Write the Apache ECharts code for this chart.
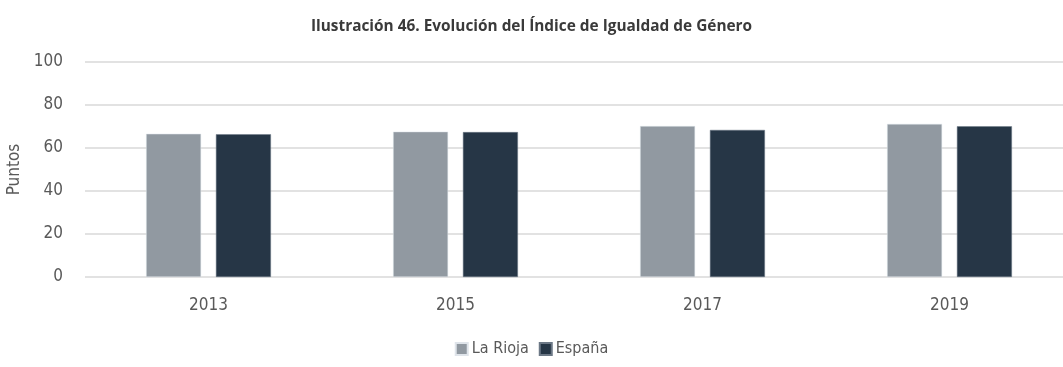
<!DOCTYPE html>
<html>
<head>
<meta charset="utf-8">
<style>
  html, body { margin: 0; padding: 0; background: #fff; }
  #chart { width: 1063px; height: 367px; }
</style>
<script src="https://cdn.jsdelivr.net/npm/echarts@6/dist/echarts.min.js"></script>
</head>
<body>
<div id="chart"></div>
<script>
// Gender Equality Index, La Rioja vs España
const years = ['2013', '2015', '2017', '2019'];
const laRioja = [66.6, 67.6, 70.2, 71.2];
const espana = [66.4, 67.4, 68.4, 70.1];
const yTicks = { min: 0, max: 100, interval: 20 };

const narrow = '"Liberation Sans Narrow", "DejaVu Sans Condensed", sans-serif';
const textGrey = '#595959';

const chart = echarts.init(document.getElementById('chart'), null, { renderer: 'canvas' });
chart.setOption({
  animation: false,
  title: {
    text: 'Ilustración 46. Evolución del Índice de Igualdad de Género',
    left: 'center',
    top: 14,
    textStyle: { fontFamily: '"Open Sans", sans-serif', fontWeight: 'bold', fontSize: 15.4, color: '#3a3a3a' }
  },
  legend: {
    bottom: 5,
    left: 'center',
    itemWidth: 12,
    itemHeight: 12,
    itemGap: 10,
    icon: 'rect',
    textStyle: { fontFamily: narrow, fontSize: 16, color: textGrey, padding: [0, 0, 0, -1] },
    data: ['La Rioja', 'España']
  },
  grid: { left: 85, top: 62, width: 988, height: 215, containLabel: false, outerBoundsMode: 'none' },
  xAxis: {
    type: 'category',
    data: years,
    axisLine: { show: false },
    axisTick: { show: false },
    axisLabel: { fontFamily: narrow, fontSize: 17, color: textGrey, margin: 20 }
  },
  yAxis: {
    type: 'value',
    min: yTicks.min,
    max: yTicks.max,
    interval: yTicks.interval,
    name: 'Puntos',
    nameLocation: 'middle',
    nameGap: 60,
    nameTextStyle: { fontFamily: narrow, fontSize: 17, color: textGrey },
    axisLine: { show: false },
    axisTick: { show: false },
    axisLabel: { fontFamily: narrow, fontSize: 17, color: textGrey, margin: 22 },
    splitLine: { lineStyle: { color: '#d9d9d9', width: 1.5 } }
  },
  series: [
    {
      name: 'La Rioja',
      type: 'bar',
      data: laRioja,
      barWidth: 55,
      barGap: '27%',
      itemStyle: { color: '#9199a1', borderColor: '#dfe4ea', borderWidth: 0.5 }
    },
    {
      name: 'España',
      type: 'bar',
      data: espana,
      barWidth: 55,
      itemStyle: { color: '#263646', borderColor: '#6c7886', borderWidth: 0.5 }
    }
  ]
});
</script>
</body>
</html>
